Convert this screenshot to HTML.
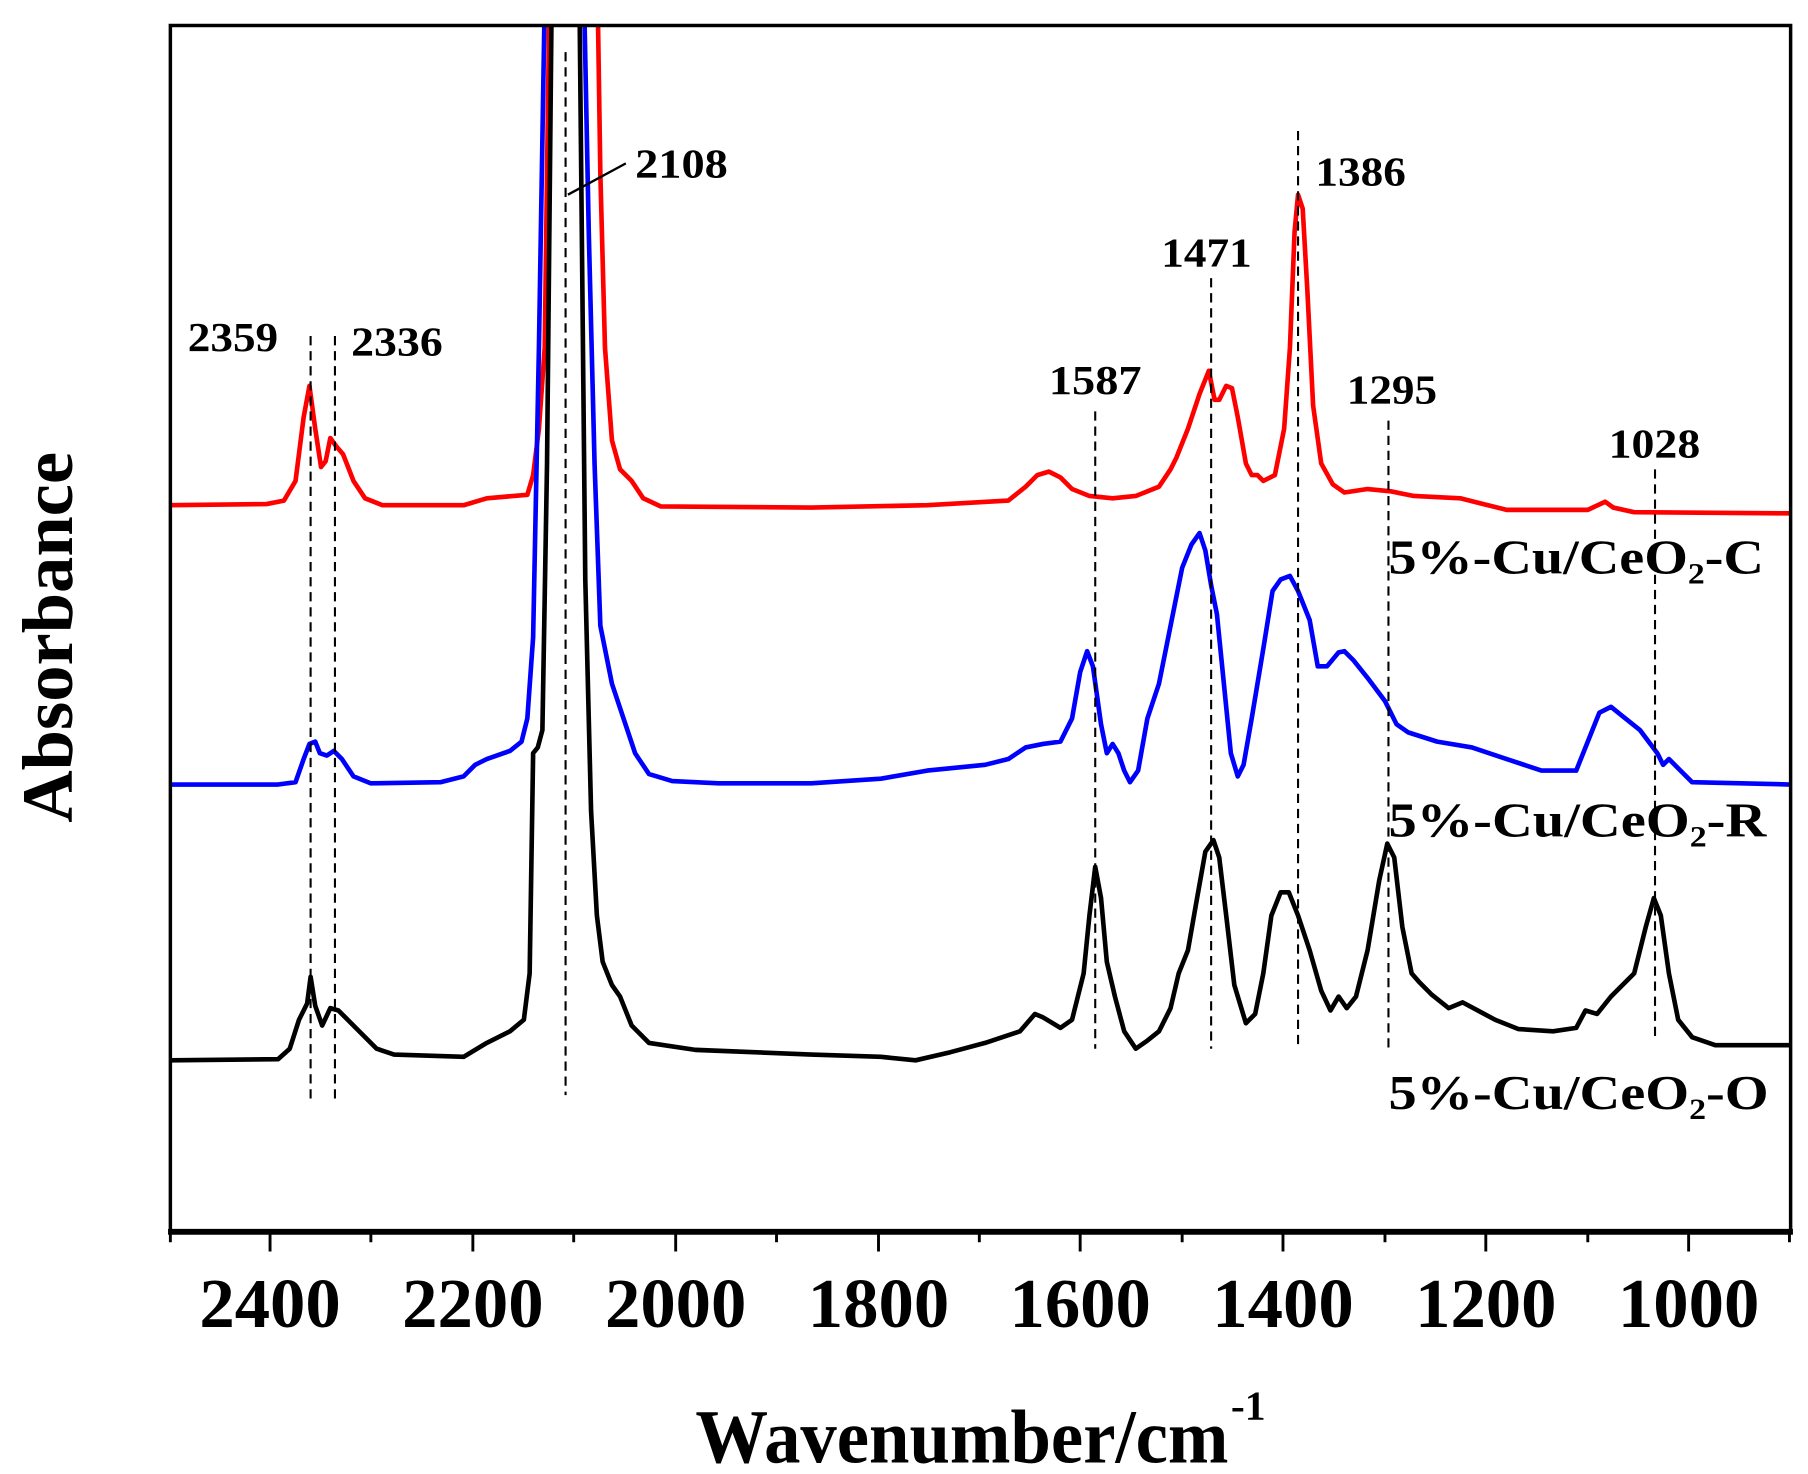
<!DOCTYPE html>
<html><head><meta charset="utf-8"><style>html,body{margin:0;padding:0;background:#fff}svg{display:block}</style></head>
<body>
<svg width="1808" height="1474" viewBox="0 0 1560 1272" preserveAspectRatio="none" xmlns="http://www.w3.org/2000/svg" font-family="Liberation Serif, serif" font-weight="bold">
<rect width="1560" height="1272" fill="#fff"/>
<defs><clipPath id="c"><rect x="147" y="22" width="1398" height="1041"/></clipPath></defs>
<g clip-path="url(#c)" fill="none" stroke-width="4" stroke-linejoin="round">
<polyline stroke="#f00" points="147,436 230,435 245,432 255,415 262,360 267,333 272,370 277,403 281,398 285,378 290,385 296,392 305,415 315,430 330,436 400,436 420,430 455,427 460,410 465,370 470,300 474,0 513,0 516,20 518,150 522,300 528,380 535,405 545,415 555,430 570,437 700,438 800,436 870,432 885,420 895,410 905,407 915,412 925,422 940,428 960,430 980,428 1000,420 1010,405 1015,395 1025,370 1035,340 1043,320 1048,345 1052,345 1058,333 1063,335 1068,360 1075,400 1080,410 1085,410 1090,415 1100,410 1108,370 1113,300 1117,200 1120,168 1124,180 1128,250 1133,350 1140,400 1150,418 1160,425 1180,422 1200,424 1220,428 1260,430 1280,435 1300,440 1370,440 1385,433 1392,438 1410,442 1545,443"/>
<polyline stroke="#00f" points="147,677 240,677 255,675 262,655 267,642 272,640 276,650 282,652 288,648 295,655 305,670 320,676 380,675 400,670 410,660 420,655 440,648 450,640 455,620 460,550 465,300 470,0 504,0 508,200 513,400 518,540 528,590 538,620 548,650 560,668 580,674 620,676 700,676 760,672 800,665 850,660 870,655 885,645 900,642 915,640 925,620 932,580 938,562 943,575 950,625 955,650 960,642 965,650 970,665 975,675 982,665 990,620 1000,590 1010,540 1020,490 1028,470 1035,460 1040,475 1045,505 1050,530 1055,580 1062,650 1068,670 1073,660 1080,620 1090,560 1098,510 1105,500 1113,497 1120,510 1130,535 1137,575 1145,575 1155,563 1160,562 1168,570 1180,585 1195,605 1205,625 1215,632 1240,640 1270,645 1300,655 1330,665 1360,665 1370,640 1380,615 1390,610 1400,618 1415,630 1430,650 1435,660 1440,655 1450,665 1460,675 1545,677"/>
<polyline stroke="#000" points="147,915 240,914 250,905 258,880 265,866 268,843 272,868 278,885 285,870 292,872 300,880 310,890 325,905 340,910 400,912 420,900 440,890 452,880 457,840 460,650 464,645 468,630 472,400 476,0 500,0 505,500 510,700 515,790 520,830 528,850 535,860 545,885 560,900 600,906 700,910 760,912 790,915 820,908 850,900 880,890 893,875 900,878 915,887 925,880 935,840 940,790 945,748 950,775 955,830 962,860 970,890 980,905 990,898 1000,890 1010,870 1017,840 1025,820 1032,780 1040,735 1047,725 1052,740 1058,790 1065,850 1075,883 1083,875 1090,840 1097,790 1105,770 1112,770 1120,790 1130,820 1140,855 1148,872 1155,860 1162,870 1170,860 1180,820 1190,760 1197,728 1203,740 1210,800 1218,840 1225,848 1235,858 1250,870 1262,865 1275,872 1290,880 1310,888 1340,890 1360,887 1368,872 1378,875 1390,860 1410,840 1420,800 1427,775 1433,790 1440,840 1448,880 1460,895 1480,902 1545,902"/>
</g>
<g stroke="#000" stroke-width="1.8" stroke-dasharray="8,5">
<line x1="268" y1="290" x2="268" y2="950"/><line x1="289" y1="290" x2="289" y2="950"/>
<line x1="488" y1="45" x2="488" y2="945"/><line x1="945" y1="355" x2="945" y2="905"/>
<line x1="1045" y1="240" x2="1045" y2="905"/><line x1="1120" y1="113" x2="1120" y2="905"/>
<line x1="1198" y1="363" x2="1198" y2="905"/><line x1="1428" y1="405" x2="1428" y2="895"/>
</g>
<line x1="490" y1="168" x2="540" y2="141" stroke="#000" stroke-width="2"/>
<rect x="147" y="22" width="1398" height="1041" fill="none" stroke="#000" stroke-width="3"/>
<line x1="145" y1="1063" x2="1547" y2="1063" stroke="#000" stroke-width="5"/>
<g stroke="#000" stroke-width="2.5">
<line x1="147" y1="1063" x2="147" y2="1072"/><line x1="233" y1="1063" x2="233" y2="1080"/><line x1="320" y1="1063" x2="320" y2="1072"/><line x1="408" y1="1063" x2="408" y2="1080"/><line x1="495" y1="1063" x2="495" y2="1072"/><line x1="583" y1="1063" x2="583" y2="1080"/><line x1="670" y1="1063" x2="670" y2="1072"/><line x1="758" y1="1063" x2="758" y2="1080"/><line x1="845" y1="1063" x2="845" y2="1072"/><line x1="932" y1="1063" x2="932" y2="1080"/><line x1="1020" y1="1063" x2="1020" y2="1072"/><line x1="1107" y1="1063" x2="1107" y2="1080"/><line x1="1195" y1="1063" x2="1195" y2="1072"/><line x1="1282" y1="1063" x2="1282" y2="1080"/><line x1="1370" y1="1063" x2="1370" y2="1072"/><line x1="1457" y1="1063" x2="1457" y2="1080"/><line x1="1544" y1="1063" x2="1544" y2="1072"/>
</g>
<g font-size="60" text-anchor="middle">
<text x="233" y="1145" textLength="122" lengthAdjust="spacingAndGlyphs">2400</text>
<text x="408" y="1145" textLength="122" lengthAdjust="spacingAndGlyphs">2200</text>
<text x="583" y="1145" textLength="122" lengthAdjust="spacingAndGlyphs">2000</text>
<text x="758" y="1145" textLength="122" lengthAdjust="spacingAndGlyphs">1800</text>
<text x="932" y="1145" textLength="122" lengthAdjust="spacingAndGlyphs">1600</text>
<text x="1107" y="1145" textLength="122" lengthAdjust="spacingAndGlyphs">1400</text>
<text x="1282" y="1145" textLength="122" lengthAdjust="spacingAndGlyphs">1200</text>
<text x="1457" y="1145" textLength="122" lengthAdjust="spacingAndGlyphs">1000</text>
</g>
<text x="600" y="1262" font-size="66" textLength="460" lengthAdjust="spacingAndGlyphs">Wavenumber/cm</text>
<text x="1062" y="1225" font-size="36">-1</text>
<text transform="translate(62,550) rotate(-90)" font-size="62" text-anchor="middle" textLength="320" lengthAdjust="spacingAndGlyphs">Absorbance</text>
<g font-size="36">
<text x="162" y="303" textLength="78" lengthAdjust="spacingAndGlyphs">2359</text>
<text x="303" y="307" textLength="79" lengthAdjust="spacingAndGlyphs">2336</text>
<text x="548" y="153" textLength="80" lengthAdjust="spacingAndGlyphs">2108</text>
<text x="905" y="340" textLength="80" lengthAdjust="spacingAndGlyphs">1587</text>
<text x="1002" y="230" textLength="78" lengthAdjust="spacingAndGlyphs">1471</text>
<text x="1135" y="160" textLength="78" lengthAdjust="spacingAndGlyphs">1386</text>
<text x="1162" y="348" textLength="78" lengthAdjust="spacingAndGlyphs">1295</text>
<text x="1388" y="395" textLength="79" lengthAdjust="spacingAndGlyphs">1028</text>
</g>
<g font-size="42">
<text x="1198" y="495" textLength="324" lengthAdjust="spacingAndGlyphs">5%-Cu/CeO₂-C</text>
<text x="1198" y="722" textLength="326" lengthAdjust="spacingAndGlyphs">5%-Cu/CeO₂-R</text>
<text x="1198" y="957" textLength="328" lengthAdjust="spacingAndGlyphs">5%-Cu/CeO₂-O</text>
</g>
</svg>
</body></html>
